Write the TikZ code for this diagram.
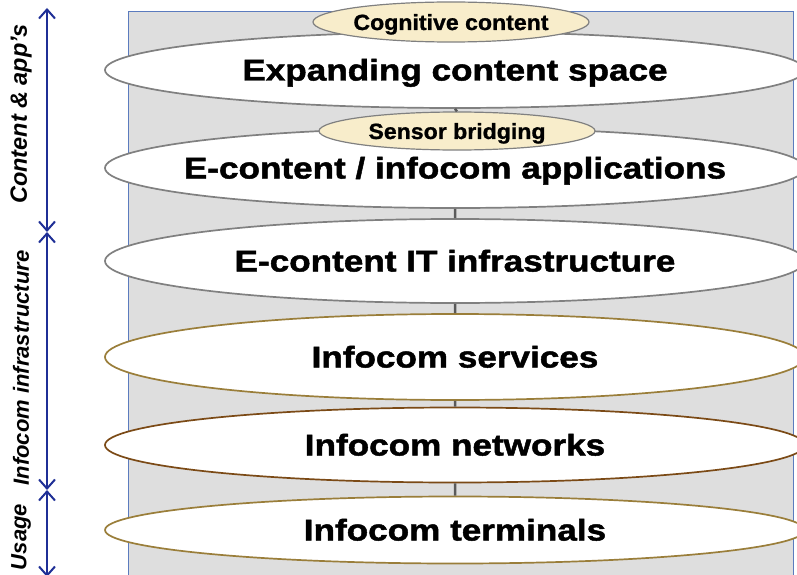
\documentclass[tikz,border=0pt]{standalone}
\usepackage{mathtools}
\usepackage{fontspec}
\setmainfont{Liberation Sans}
\newfontfamily\layerfont[FakeStretch=1.17, BoldFeatures={FakeBold=1.6}]{Liberation Sans}
\newfontfamily\capfont[FakeStretch=1.05, BoldFeatures={FakeBold=1}]{Liberation Sans}
\usepackage{tikz}
\usetikzlibrary{shapes.geometric,arrows.meta}
\definecolor{panelgray}{HTML}{DEDEDE}
\definecolor{panelblue}{HTML}{5B7BBE}
\definecolor{capfill}{HTML}{F8EDCB}
\definecolor{rimgray}{HTML}{808080}
\definecolor{rimgold}{HTML}{9A7E3A}
\definecolor{rimbrown}{HTML}{7B4A16}
\definecolor{axisblue}{HTML}{1F2F96}
\tikzset{layer/.style={ellipse, draw=rimgray, line width=1.7pt, fill=white,
  inner sep=0pt, minimum width=700pt, text height=21pt, text depth=0pt,
  font=\layerfont\fontsize{30}{33}\selectfont\bfseries},
topcap/.style={ellipse, draw=rimgray, line width=1.2pt, fill=capfill,
  inner sep=0pt, minimum width=276pt, text height=16pt, text depth=0pt,
  font=\capfont\fontsize{22}{25}\selectfont\bfseries},
link/.style={draw=rimgray!70!black, line width=2.5pt},
axis/.style={axisblue, line width=2pt,
  {Straight Barb[length=9pt,width=16pt,line width=2pt]}-{Straight Barb[length=9pt,width=16pt,line width=2pt]}},
side/.style={rotate=90, font=\fontsize{22}{25}\selectfont\bfseries\itshape}
}

\begin{document}
\begin{tikzpicture}[x=1pt, y=-1pt]
  \useasboundingbox (0,0) rectangle (797,575);
  \draw[panelblue, fill=panelgray, line width=1pt] (128,12) rectangle (793,590);

  \node[layer]                  (expand)  at (455,70)  [minimum height=76pt] {\clap{Expanding content space}};
  \node[topcap]                 (cogn)    at (451,22)  [minimum height=40pt] {\clap{Cognitive content}};
  \node[layer]                  (apps)    at (455,168) [minimum height=80pt] {\clap{E-content / infocom applications}};
  \node[topcap]                 (sensor)  at (457,131) [minimum height=38pt] {\clap{Sensor bridging}};
  \node[layer]                  (itinfra) at (455,261) [minimum height=84pt] {\clap{E-content IT infrastructure}};
  \node[layer, draw=rimgold]    (serv)    at (455,357) [minimum height=86pt] {\clap{Infocom services}};
  \node[layer, draw=rimbrown]   (netw)    at (455,445) [minimum height=75pt] {\clap{Infocom networks}};
  \node[layer, draw=rimgold]    (term)    at (455,530) [minimum height=67pt] {\clap{Infocom terminals}};

  \path[link] (expand.south)  -- (sensor.north)
              (apps.south)    -- (itinfra.north)
              (itinfra.south) -- (serv.north)
              (serv.south)    -- (netw.north)
              (netw.south)    -- (term.north);

  % usage / infrastructure / content axis
  \coordinate (ax0) at (47,8);
  \coordinate (ax1) at (47,232);
  \coordinate (ax2) at (47,490);
  \coordinate (ax3) at (47,577);
  \draw[axis] (ax0) -- (ax1);
  \draw[axis] (ax1) -- (ax2);
  \draw[axis] (ax2) -- (ax3);

  \node[side] (lcontent) at (21,114) [font=\fontsize{23.5}{26}\selectfont\bfseries\itshape] {Content \& app’s};
  \node[side] (linfra)   at (21,368) {Infocom infrastructure};
  \node[side] (lusage)   at (21,537) {Usage};
\end{tikzpicture}
\end{document}
